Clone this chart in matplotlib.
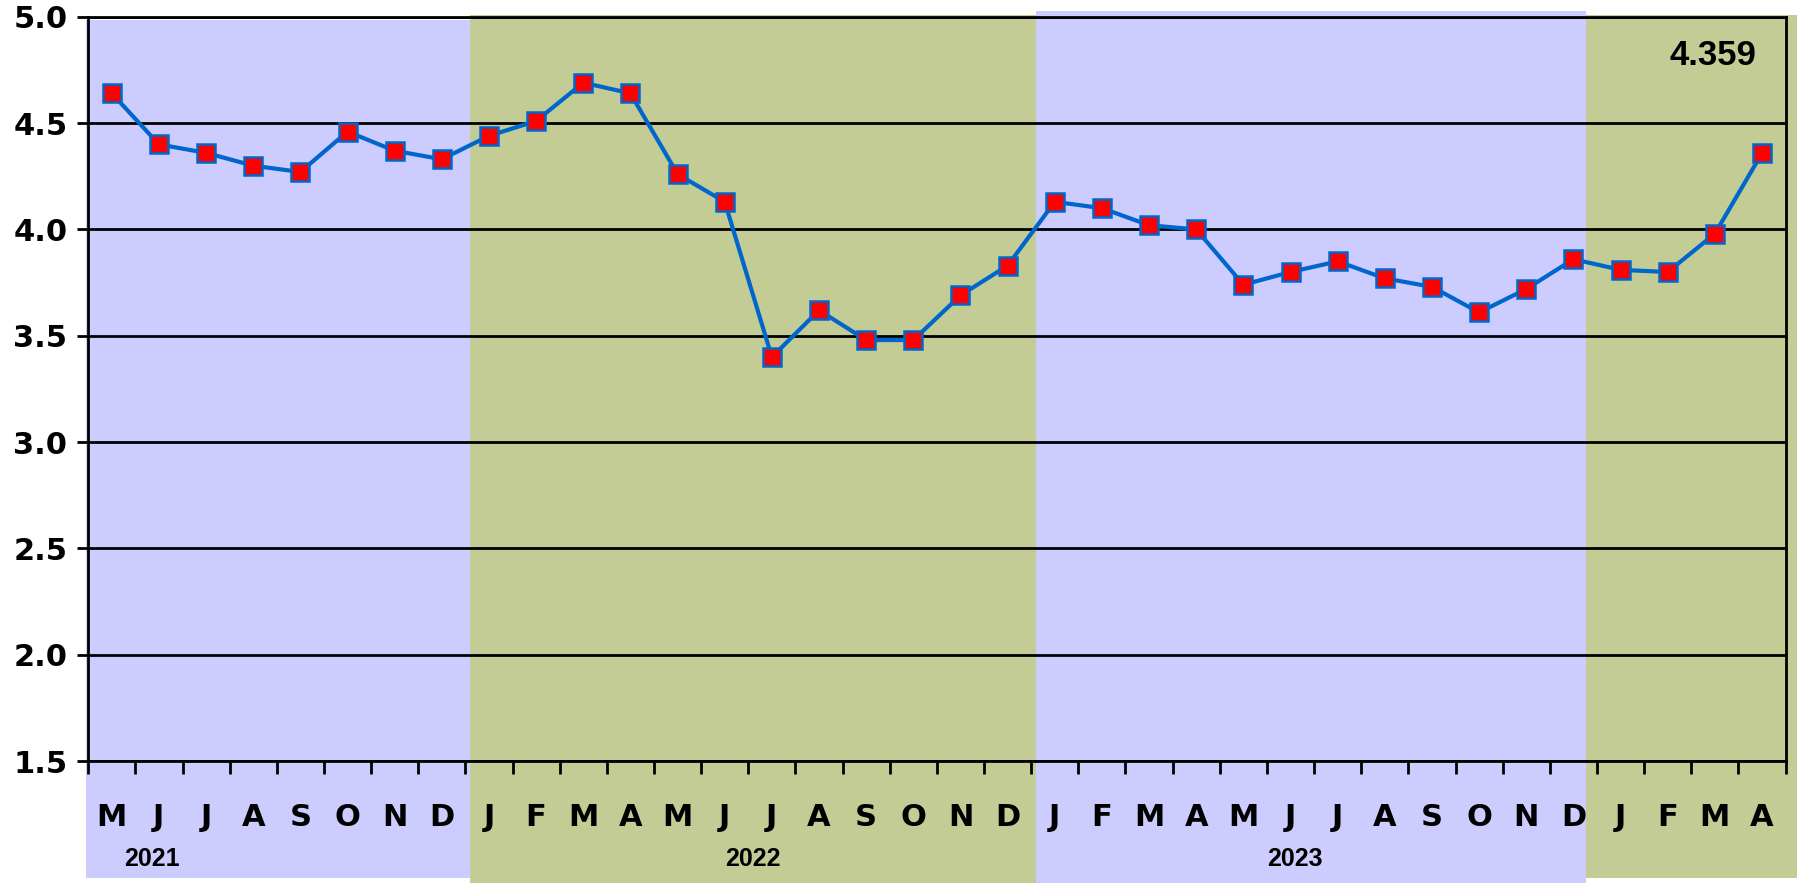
import matplotlib
matplotlib.use("Agg")
import matplotlib.pyplot as plt
from matplotlib.patches import Rectangle

months = ["M", "J", "J", "A", "S", "O", "N", "D",
          "J", "F", "M", "A", "M", "J", "J", "A", "S", "O", "N", "D",
          "J", "F", "M", "A", "M", "J", "J", "A", "S", "O", "N", "D",
          "J", "F", "M", "A"]
values = [4.64, 4.40, 4.36, 4.30, 4.27, 4.46, 4.37, 4.33,
          4.44, 4.51, 4.69, 4.64, 4.26, 4.13, 3.40, 3.62, 3.48, 3.48, 3.69, 3.83,
          4.13, 4.10, 4.02, 4.00, 3.74, 3.80, 3.85, 3.77, 3.73, 3.61, 3.72, 3.86,
          3.81, 3.80, 3.98, 4.359]
years = ["2021", "2022", "2023"]
year_label_x = [1.36, 14.1, 25.6]
band_edges = [-0.05, 8.1, 20.1, 31.77, 36.25]
last_label = "4.359"
yticks = [1.5, 2.0, 2.5, 3.0, 3.5, 4.0, 4.5, 5.0]

band_colors = ["#CCCCFF", "#C3CC94", "#CCCCFF", "#C3CC94"]
band_tops = [4.985, 5.01, 5.027, 5.01]
band_bottoms = [0.95, 0.925, 0.925, 0.95]

plt.rcParams['font.family'] = ['Liberation Sans', 'DejaVu Sans']

fig = plt.figure(figsize=(18, 8.83), dpi=100)
ax = fig.add_axes([0.049, 0.138, 0.943, 0.843])
ax.set_xlim(0, len(months))
ax.set_ylim(1.5, 5.0)

for i, (c, t, b) in enumerate(zip(band_colors, band_tops, band_bottoms)):
    x0, x1 = band_edges[i], band_edges[i + 1]
    ax.add_patch(Rectangle((x0, b), x1 - x0, t - b, facecolor=c,
                           edgecolor='none', clip_on=False, zorder=0))
ax.set_facecolor('none')
fig.patch.set_facecolor('white')

for y in yticks:
    ax.axhline(y, color='black', lw=2, zorder=1)

xs = [i + 0.5 for i in range(len(values))]
ax.plot(xs, values, color='#0066CC', lw=3, marker='s', markersize=13,
        markerfacecolor='#FF0000', markeredgecolor='#0066CC',
        markeredgewidth=1.8, zorder=3, clip_on=False)

ax.set_xticks(range(len(months) + 1))
ax.set_xticklabels([])
ax.tick_params(axis='x', direction='out', length=9, width=2, color='black')
ax.set_yticks(yticks)
ax.set_yticklabels([f"{v:.1f}" for v in yticks], fontsize=22,
                   fontweight='bold', family='DejaVu Sans')
ax.tick_params(axis='y', direction='out', length=8, width=2, color='black', pad=7)
for s in ax.spines.values():
    s.set_color('black')
    s.set_linewidth(2)
    s.set_zorder(4)

for x, m in zip(xs, months):
    ax.text(x, 1.5 - 0.267, m, ha='center', va='center', fontsize=22,
            fontweight='bold', family='DejaVu Sans', zorder=5, clip_on=False)
for x, yl in zip(year_label_x, years):
    ax.text(x, 1.5 - 0.46, yl, ha='center', va='center', fontsize=18,
            fontweight='bold', zorder=5, clip_on=False)

ax.text(xs[-1] - 1.05, 4.82, last_label, ha='center', va='center',
        fontsize=25, fontweight='bold', zorder=5)

fig.savefig("out.png", dpi=100)
